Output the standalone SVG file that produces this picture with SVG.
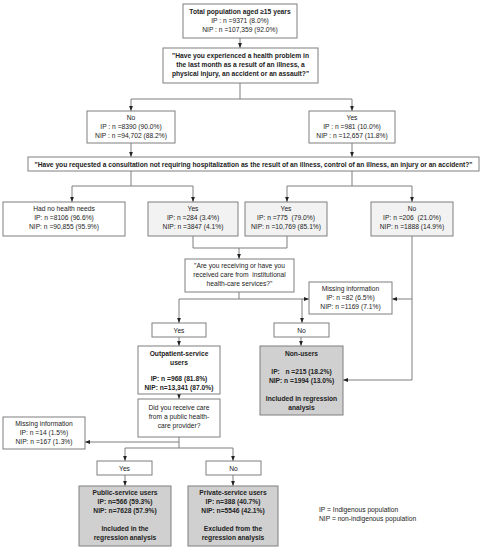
<svg xmlns="http://www.w3.org/2000/svg" width="482" height="550" viewBox="0 0 482 550">
<defs>
<marker id="ah" markerUnits="userSpaceOnUse" markerWidth="5" markerHeight="5" viewBox="0 0 5 5" refX="5" refY="2.5" orient="auto">
<path d="M0,0.6 L5,2.5 L0,4.4 Z" fill="#222"/>
</marker>
<style>
rect{stroke:#7f7f7f;stroke-width:1;fill:#fff}
.lg{fill:#f2f2f2}
.dg{fill:#d0d0d0}
text{font-family:"Liberation Sans",Arial,sans-serif;font-size:6.7px;fill:#222;text-anchor:middle}
.b{font-weight:bold}
.l{text-anchor:start}
#conn path{stroke:#7f7f7f;stroke-width:1;fill:none}
#conn .a{marker-end:url(#ah)}
</style>
</defs>
<rect width="482" height="550" style="fill:#fff;stroke:none"/>
<g id="conn">
<path class="a" d="M240,38 V48"/>
<path d="M240,83 V99 M131,99 H352"/>
<path class="a" d="M131,99 V111"/>
<path class="a" d="M352,99 V111"/>
<path class="a" d="M131,143 V157"/>
<path class="a" d="M352,143 V157"/>
<path d="M131,171 V186 M72,186 H193 M352,171 V186 M287,186 H412"/>
<path class="a" d="M72,186 V202"/>
<path class="a" d="M193,186 V202"/>
<path class="a" d="M287,186 V202"/>
<path class="a" d="M412,186 V202"/>
<path d="M193,236 V248 H287 V236"/>
<path class="a" d="M239,248 V259"/>
<path d="M239,292 V299"/>
<path class="a" d="M179,299 H309"/>
<path class="a" d="M179,299 V323"/>
<path class="a" d="M302,299 V323"/>
<path class="a" d="M412,236 V380 H343"/>
<path class="a" d="M412,299 H392"/>
<path class="a" d="M179,337 V346"/>
<path class="a" d="M301,337 V346"/>
<path class="a" d="M179,394 V399"/>
<path d="M179,437 V448"/>
<path class="a" d="M179,442 H85"/>
<path d="M125,448 H233"/>
<path class="a" d="M125,448 V461"/>
<path class="a" d="M233,448 V461"/>
<path class="a" d="M125,475 V486"/>
<path class="a" d="M233,475 V486"/>
</g>
<g id="n-total">
<rect x="183" y="4" width="114" height="34"/>
<text x="240" y="14" class="b">Total population aged ≥15 years</text>
<text x="240" y="23">IP : n =9371 (8.0%)</text>
<text x="240" y="32">NIP : n =107,359 (92.0%)</text>
</g>
<g id="n-q1">
<rect x="163" y="48" width="155" height="35"/>
<text x="240.5" y="58" class="b">"Have you experienced a health problem in</text>
<text x="240.5" y="67" class="b">the last month as a result of an illness, a</text>
<text x="240.5" y="76" class="b">physical injury, an accident or an assault?"</text>
</g>
<g id="n-no1">
<rect x="87" y="111" width="88" height="32"/>
<text x="131" y="119.5">No</text>
<text x="131" y="128.5">IP : n =8390 (90.0%)</text>
<text x="131" y="137.5">NIP : n =94,702 (88.2%)</text>
</g>
<g id="n-yes1">
<rect x="309" y="111" width="86" height="32"/>
<text x="352" y="119.5">Yes</text>
<text x="352" y="128.5">IP : n =981 (10.0%)</text>
<text x="352" y="137.5">NIP : n =12,657 (11.8%)</text>
</g>
<g id="n-q2">
<rect x="28" y="157" width="451" height="14"/>
<text x="253.5" y="166.5" class="b" textLength="438" lengthAdjust="spacingAndGlyphs">"Have you requested a consultation not requiring hospitalization as the result of an illness, control of an illness, an injury or an accident?"</text>
</g>
<g id="n-noneeds">
<rect x="3" y="202" width="122" height="34"/>
<text x="64" y="211">Had no health needs</text>
<text x="64" y="220">IP: n =8106 (96.6%)</text>
<text x="64" y="229">NIP: n =90,855 (95.9%)</text>
</g>
<g id="n-yes2">
<rect x="148" y="202" width="90" height="34" class="lg"/>
<text x="193" y="211">Yes</text>
<text x="193" y="220">IP: n =284 (3.4%)</text>
<text x="193" y="229">NIP: n =3847 (4.1%)</text>
</g>
<g id="n-yes3">
<rect x="245" y="202" width="82" height="34" class="lg"/>
<text x="286" y="211">Yes</text>
<text x="286" y="220" xml:space="preserve">IP: n =775  (79.0%)</text>
<text x="286" y="229">NIP: n =10,769 (85.1%)</text>
</g>
<g id="n-no2">
<rect x="371" y="202" width="82" height="34" class="lg"/>
<text x="412" y="211">No</text>
<text x="412" y="220" xml:space="preserve">IP: n =206  (21.0%)</text>
<text x="412" y="229">NIP: n =1888 (14.9%)</text>
</g>
<g id="n-q3">
<rect x="185" y="259" width="109" height="33"/>
<text x="239.5" y="268">"Are you receiving or have you</text>
<text x="239.5" y="277" xml:space="preserve">received care from  institutional</text>
<text x="239.5" y="286">health-care services?"</text>
</g>
<g id="n-miss1">
<rect x="309" y="282" width="83" height="32"/>
<text x="350.5" y="290.5">Missing information</text>
<text x="350.5" y="299.5">IP: n =82 (6.5%)</text>
<text x="350.5" y="308.5">NIP: n =1169 (7.1%)</text>
</g>
<g id="n-yes4">
<rect x="152" y="323" width="54" height="14"/>
<text x="179" y="332.5">Yes</text>
</g>
<g id="n-no4">
<rect x="274" y="323" width="55" height="14"/>
<text x="301.5" y="332.5">No</text>
</g>
<g id="n-outpatient">
<rect x="138" y="346" width="82" height="48"/>
<text x="179" y="355.5" class="b">Outpatient-service</text>
<text x="179" y="364.5" class="b">users</text>
<text x="179" y="381" class="b">IP: n =968 (81.8%)</text>
<text x="179" y="390" class="b">NIP: n=13,341 (87.0%)</text>
</g>
<g id="n-nonusers">
<rect x="260" y="346" width="83" height="69" class="dg"/>
<text x="301.5" y="355.5" class="b">Non-users</text>
<text x="301.5" y="373.5" class="b" xml:space="preserve">IP:   n =215 (18.2%)</text>
<text x="301.5" y="382.5" class="b">NIP: n =1994 (13.0%)</text>
<text x="301.5" y="400.5" class="b">Included in regression</text>
<text x="301.5" y="409.5" class="b">analysis</text>
</g>
<g id="n-q4">
<rect x="138" y="399" width="82" height="38"/>
<text x="179" y="410">Did you receive care</text>
<text x="179" y="419">from a public health-</text>
<text x="179" y="428">care provider?</text>
</g>
<g id="n-miss2">
<rect x="3" y="417" width="82" height="32"/>
<text x="44" y="425.5">Missing information</text>
<text x="44" y="434.5">IP: n =14 (1.5%)</text>
<text x="44" y="443.5">NIP: n =167 (1.3%)</text>
</g>
<g id="n-yes5">
<rect x="97" y="461" width="55" height="14"/>
<text x="124.5" y="470.5">Yes</text>
</g>
<g id="n-no5">
<rect x="206" y="461" width="55" height="14"/>
<text x="233.5" y="470.5">No</text>
</g>
<g id="n-public">
<rect x="79" y="486" width="92" height="60" class="dg"/>
<text x="125" y="495" class="b">Public-service users</text>
<text x="125" y="504" class="b">IP: n=566 (59.3%)</text>
<text x="125" y="513" class="b">NIP: n=7628 (57.9%)</text>
<text x="125" y="531" class="b">Included in the</text>
<text x="125" y="540" class="b">regression analysis</text>
</g>
<g id="n-private">
<rect x="188" y="486" width="90" height="60" class="dg"/>
<text x="233" y="495" class="b">Private-service users</text>
<text x="233" y="504" class="b">IP: n=388 (40.7%)</text>
<text x="233" y="513" class="b">NIP: n=5546 (42.1%)</text>
<text x="233" y="531" class="b">Excluded from the</text>
<text x="233" y="540" class="b">regression analysis</text>
</g>
<g id="legend">
<text x="319" y="512" class="l">IP = Indigenous population</text>
<text x="319" y="521" class="l">NIP = non-indigenous population</text>
</g>
</svg>
